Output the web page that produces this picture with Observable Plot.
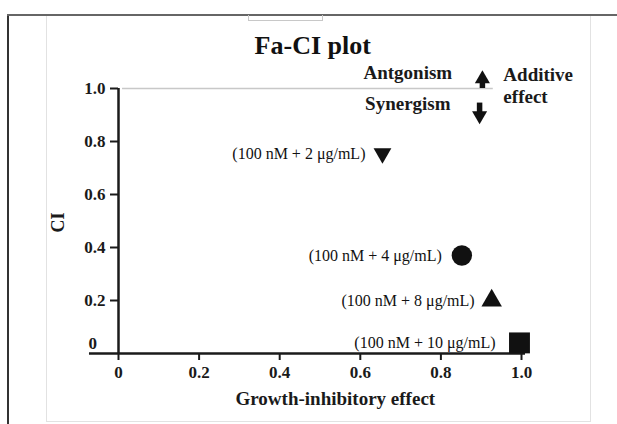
<!DOCTYPE html>
<html>
<head>
<meta charset="utf-8">
<script src="https://cdn.jsdelivr.net/npm/d3@7"></script>
<script src="https://cdn.jsdelivr.net/npm/@observablehq/plot@0.6"></script>
<style>
  html, body { margin: 0; padding: 0; background: #fff; }
  #wrap { position: relative; width: 617px; height: 424px; overflow: hidden; }
  .fr { position: absolute; box-sizing: border-box; }
  svg { position: absolute; left: 0; top: 0; }
</style>
</head>
<body>
<div id="wrap">
  <div class="fr" style="left:46px;top:15px;width:545px;height:407px;border:1px solid #e2e2e2;"></div>
  <div class="fr" style="left:7px;top:14px;width:2px;height:410px;background:#333;"></div>
  <div class="fr" style="left:7px;top:14px;width:610px;height:2px;background:#666;"></div>
  <div class="fr" style="left:248px;top:15px;width:75px;height:6px;border:1px solid #c8c8c8;border-top:none;"></div>
</div>
<script>
// Data
const labels = ["(100 nM + 2 μg/mL)", "(100 nM + 4 μg/mL)", "(100 nM + 8 μg/mL)", "(100 nM + 10 μg/mL)"];
const fa = [0.655, 0.852, 0.926, 0.995];
const ci = [0.755, 0.37, 0.2, 0.04];
const symbols = ["triangle", "circle", "triangle", "square"];
const rotations = [180, 0, 0, 0];
const radii = [6.6, 10.2, 7.6, 11.8];
const labelOffsets = [-17, -20, -17, -24];
const xTicks = [0, 0.2, 0.4, 0.6, 0.8, 1.0];
const yTicks = [0.2, 0.4, 0.6, 0.8, 1.0];

const points = labels.map((l, i) => ({
  label: l, fa: fa[i], ci: ci[i], symbol: symbols[i], rotate: rotations[i], r: radii[i], dx: labelOffsets[i]
}));

const serif = "'Liberation Serif', 'Times New Roman', serif";
const ink = "#1a1a1a";

const chart = Plot.plot({
  width: 617,
  height: 424,
  marginLeft: 118,
  marginRight: 96,
  marginTop: 88,
  marginBottom: 71,
  style: { fontFamily: serif, background: "transparent", overflow: "visible" },
  x: { domain: [0, 1] },
  y: { domain: [0, 1] },
  r: { type: "identity" },
  symbol: { type: "identity" },
  marks: [
    // Additive-effect reference line at CI = 1
    Plot.ruleY([1], { x1: 0.01, x2: 0.93, stroke: "#c8c8c8", strokeWidth: 1.5 }),
    // Axes
    Plot.axisY(yTicks, {
      tickSize: 8, tickPadding: 5, fontSize: 17, fontWeight: "bold", stroke: ink,
      strokeWidth: 2, fill: ink, tickFormat: d => d3.format(".1f")(d), label: null
    }),
    Plot.axisX(xTicks, {
      tickSize: 7, tickPadding: 5, fontSize: 17, fontWeight: "bold", stroke: ink,
      strokeWidth: 2, fill: ink, tickFormat: d => d === 0 ? "0" : d3.format(".1f")(d), label: null
    }),
    Plot.ruleX([0], { y1: 0, y2: 1, stroke: ink, strokeWidth: 2.5 }),
    Plot.ruleY([0], { x1: -0.072, x2: 1.01, stroke: ink, strokeWidth: 2.5 }),
    // "0" y tick label, offset like the original
    Plot.text(["0"], { x: -0.064, y: 0, dy: -10, text: d => d, fontSize: 17, fontWeight: "bold", fill: ink }),
    // axis titles
    Plot.text(["CI"], { x: -0.15, y: 0.494, text: d => d, rotate: -90, fontSize: 18, fontWeight: "bold", fill: ink }),
    Plot.text(["Growth-inhibitory effect"], { x: 0.538, y: 0, dy: 45, text: d => d, fontSize: 19, fontWeight: "bold", fill: ink }),
    // title
    Plot.text(["Fa-CI plot"], { x: 0.482, y: 1.16, text: d => d, fontSize: 26, fontWeight: "bold", fill: "#111" }),
    // annotations
    Plot.text(["Antgonism"], { x: 0.828, y: 1.057, text: d => d, textAnchor: "end", fontSize: 19, fontWeight: "bold", fill: ink }),
    Plot.text(["Synergism"], { x: 0.824, y: 0.94, text: d => d, textAnchor: "end", fontSize: 19, fontWeight: "bold", fill: ink }),
    // block arrows
    Plot.ruleX([0.903], { y1: 1.025, y2: 1.0, stroke: "#111", strokeWidth: 5.5 }),
    Plot.dot([0.903], { x: d => d, y: 1.036, symbol: "triangle", r: 5.6, fill: "#111" }),
    Plot.ruleX([0.896], { y1: 0.945, y2: 0.909, stroke: "#111", strokeWidth: 5.5 }),
    Plot.dot([0.896], { x: d => d, y: 0.898, symbol: "triangle", r: 5.6, rotate: 180, fill: "#111" }),
    Plot.text(["Additive", "effect"], { x: 0.955, y: (d, i) => [1.052, 0.969][i], text: d => d, textAnchor: "start", fontSize: 19, fontWeight: "bold", fill: ink }),
    // points
    Plot.dot(points, { x: "fa", y: "ci", symbol: "symbol", r: "r", rotate: "rotate", fill: "#111", stroke: "none" }),
    ...points.map(p => Plot.text([p], { x: "fa", y: "ci", text: "label", dx: p.dx, textAnchor: "end", fontSize: 16, fill: "#111" }))
  ]
});

document.getElementById("wrap").appendChild(chart);
</script>
</body>
</html>
